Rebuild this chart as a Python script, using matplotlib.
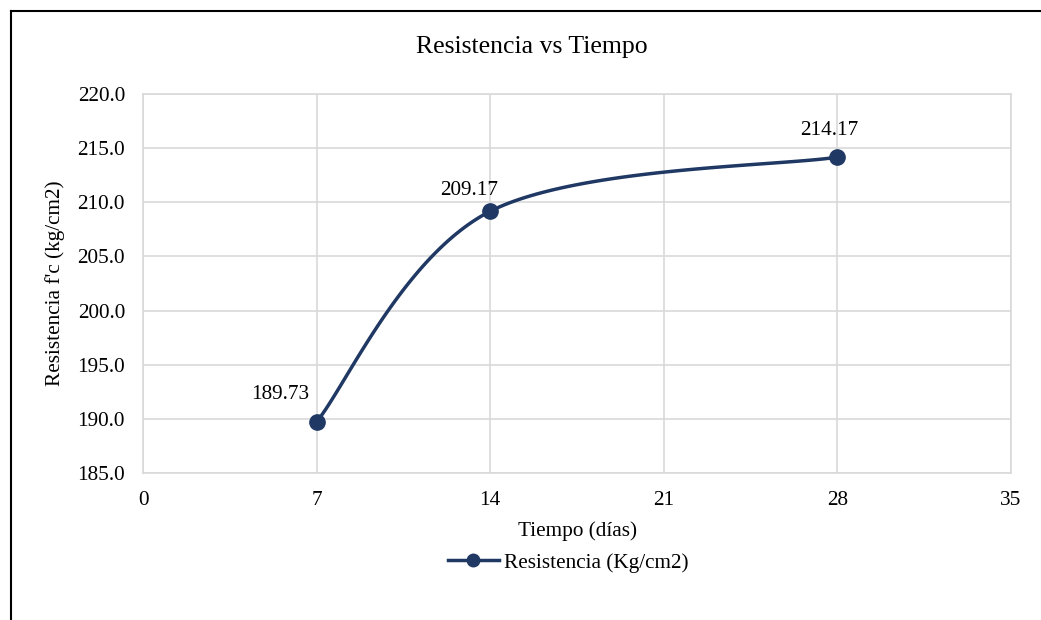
import numpy as np
import matplotlib.pyplot as plt
from matplotlib.lines import Line2D

plt.rcParams['font.family'] = ['Liberation Serif', 'DejaVu Serif']

# Ensayo de compresión
dias = [7, 14, 28]
resistencia = [189.73, 209.17, 214.17]
x_ticks = [0, 7, 14, 21, 28, 35]
y_ticks = [185.0, 190.0, 195.0, 200.0, 205.0, 210.0, 215.0, 220.0]

color = '#203864'
grid = '#d9d9d9'


def suavizar(xs, ys, n=60):
    # curva suavizada tipo Excel (Bezier cúbica por tramos)
    p = np.column_stack([xs, ys]).astype(float)
    pts = [p[0]]
    for i in range(len(p) - 1):
        a = p[i - 1] if i > 0 else p[i]
        d = p[i + 2] if i + 2 < len(p) else p[i + 1]
        c1 = p[i] + (p[i + 1] - a) / 6
        c2 = p[i + 1] - (d - p[i]) / 6
        t = np.linspace(0, 1, n)[1:, None]
        seg = ((1 - t) ** 3 * p[i] + 3 * (1 - t) ** 2 * t * c1
               + 3 * (1 - t) * t ** 2 * c2 + t ** 3 * p[i + 1])
        pts.extend(seg)
    pts = np.array(pts)
    return pts[:, 0], pts[:, 1]


fig = plt.figure(figsize=(10.41, 6.2), dpi=100)
ax = fig.add_axes([0.1374, 0.2371, 0.8338, 0.6113])

# marco del gráfico
fig.add_artist(Line2D([0.0106, 0.0106], [0, 0.983], color='black', lw=1.5,
                      transform=fig.transFigure))
fig.add_artist(Line2D([0.0106, 1.0], [0.983, 0.983], color='black', lw=1.5,
                      transform=fig.transFigure))

xs, ys = suavizar(dias, resistencia)
ax.plot(xs, ys, color=color, lw=2.5, solid_capstyle='round', zorder=3)
ax.plot(dias, resistencia, 'o', color=color, ms=11, zorder=4)

offsets = [(-26, 20), (-15, 15), (-6, 19.5)]
for x, y, off in zip(dias, resistencia, offsets):
    ax.annotate(f'{y:.2f}', (x, y), xytext=off, textcoords='offset points',
                ha='center', va='center', fontsize=15.3)

ax.set_xlim(0, 35)
ax.set_ylim(185, 220)
ax.set_xticks(x_ticks)
ax.set_yticks(y_ticks)
ax.set_yticklabels([f'{v:.1f}' for v in y_ticks])
ax.tick_params(length=0, labelsize=15.3)
ax.tick_params(axis='y', pad=13)
ax.tick_params(axis='x', pad=13)
ax.grid(True, color=grid, lw=1.2)
ax.set_axisbelow(True)
for s in ax.spines.values():
    s.set_color(grid)
    s.set_linewidth(1.2)

fig.text(532 / 1041, 1 - 47 / 620, 'Resistencia vs Tiempo', fontsize=18.5,
         ha='center', va='center')
ax.set_xlabel('Tiempo (días)', fontsize=15.3, labelpad=8)
ax.set_ylabel("Resistencia f'c (kg/cm2)", fontsize=15.3, labelpad=9)

handle = Line2D([], [], color=color, lw=2.5, marker='o', ms=9)
fig.legend([handle], ['Resistencia (Kg/cm2)'], loc='center',
           bbox_to_anchor=(0.546, 0.092), frameon=False, fontsize=15.3,
           handlelength=2.4, handletextpad=0.25)

fig.savefig('out.png', dpi=100, facecolor='white')
